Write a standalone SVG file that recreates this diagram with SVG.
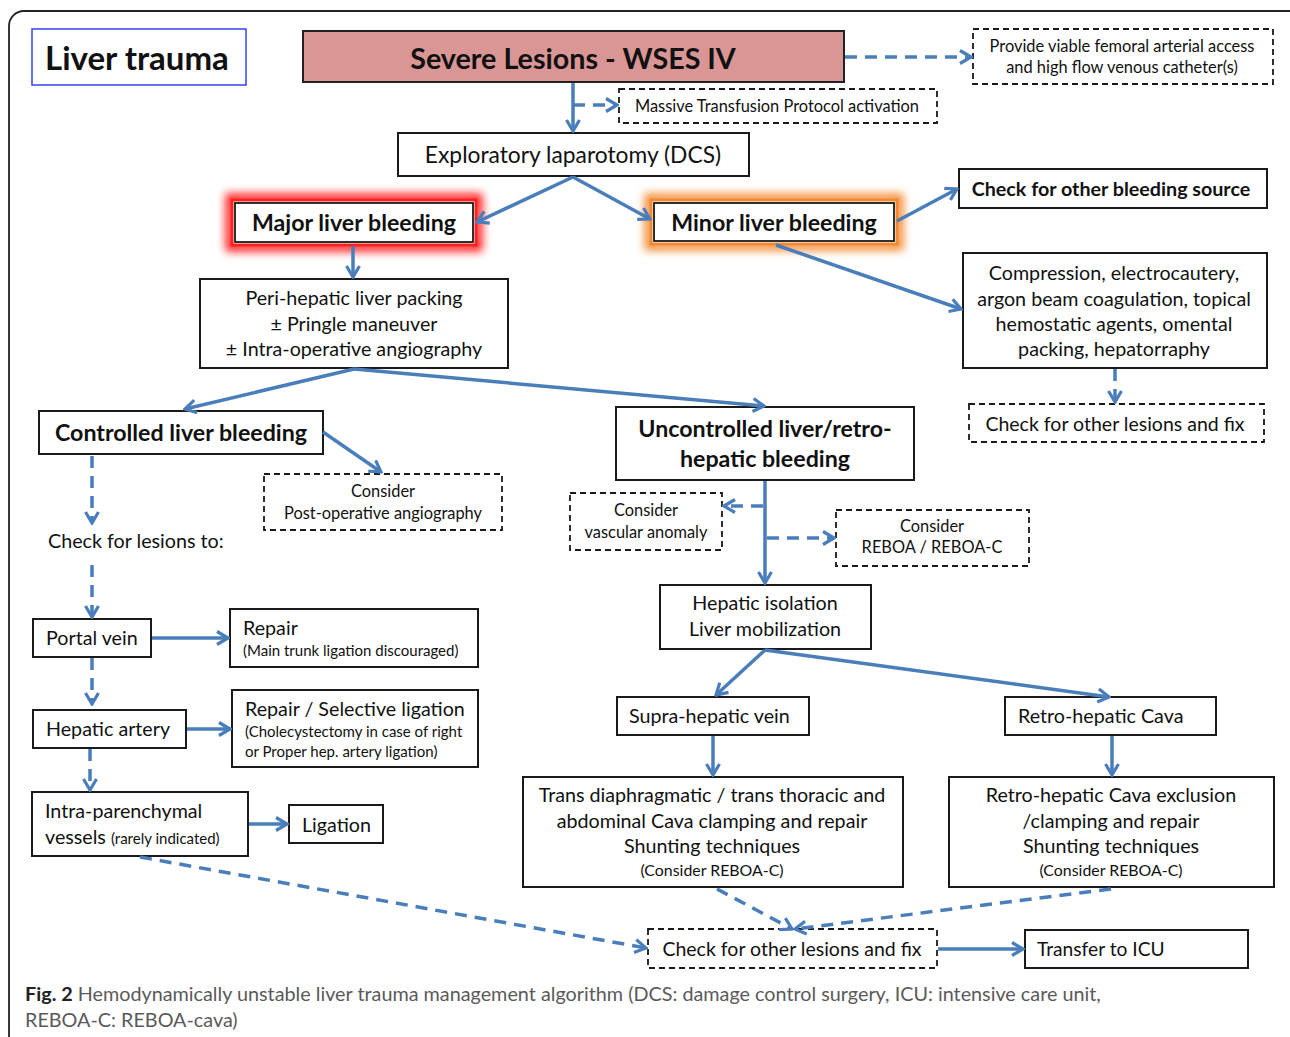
<svg xmlns="http://www.w3.org/2000/svg" width="1290" height="1037" viewBox="0 0 1290 1037">
<style>
  text { font-family: Lato, "Open Sans", "Liberation Sans", sans-serif; fill: #111; }
  .box { fill: #fff; stroke: #1a1a1a; stroke-width: 2; }
  .dbox { fill: #fff; stroke: #1a1a1a; stroke-width: 1.8; stroke-dasharray: 6 4; }
  .c { text-anchor: middle; }
  .b { font-weight: bold; }
  .s19 { font-size: 19.7px; }
  .s16 { font-size: 16.4px; }
  .s15 { font-size: 15.9px; }
  .s14 { font-size: 15px; }
  .s22 { font-size: 23.2px; }
  .s20 { font-size: 19.5px; }
  .con { fill: none; stroke: #4a7ebb; stroke-width: 3.5; marker-end: url(#ah); }
  .dash { stroke-dasharray: 12 8; }
</style>
<defs>
  <marker id="ah" markerUnits="userSpaceOnUse" viewBox="0 0 16 16" refX="14" refY="8" markerWidth="16" markerHeight="16" orient="auto">
    <path d="M3,1.5 L14,8 L3,14.5" fill="none" stroke="#4a7ebb" stroke-width="3.2" stroke-dasharray="none" stroke-linejoin="miter"/>
  </marker>
  <filter id="glow" x="-20%" y="-50%" width="140%" height="200%">
    <feGaussianBlur stdDeviation="4"/>
  </filter>
</defs>

<rect x="0" y="0" width="1290" height="1037" fill="#fff"/>
<rect x="9" y="11" width="1300" height="1100" rx="15" fill="none" stroke="#222" stroke-width="1.8"/>

<g id="title">
  <rect x="32" y="29" width="214" height="56" fill="#fff" stroke="#3344ee" stroke-width="1.5"/>
  <text x="45" y="70" style="font-size:33px" class="b">Liver trauma</text>
</g>

<g id="severe">
  <rect x="303" y="31" width="541" height="51" fill="#d99694" stroke="#222" stroke-width="2"/>
  <text x="573" y="69" class="c b" style="font-size:28.7px">Severe Lesions - WSES IV</text>
</g>

<g id="femoral">
  <rect x="973" y="29" width="300" height="55" class="dbox"/>
  <text x="1122" y="52" class="c s16">Provide viable femoral arterial access</text>
  <text x="1122" y="73" class="c s16">and high flow venous catheter(s)</text>
</g>

<g id="mtp">
  <rect x="619" y="89" width="318" height="34" class="dbox"/>
  <text x="777" y="112" class="c s16">Massive Transfusion Protocol activation</text>
</g>

<g id="explap">
  <rect x="398" y="133" width="351" height="43" class="box"/>
  <text x="573" y="163" class="c" style="font-size:22.8px">Exploratory laparotomy (DCS)</text>
</g>

<g id="major">
  <rect x="230" y="198" width="248" height="49" fill="none" stroke="#ff1a1a" stroke-width="9" filter="url(#glow)"/>
  <rect x="232" y="200" width="244" height="45" fill="#fff" stroke="#ff2020" stroke-width="3"/>
  <rect x="235" y="203" width="238" height="39" fill="#fff" stroke="#1a1a1a" stroke-width="1.8"/>
  <text x="354" y="231" class="c b s22">Major liver bleeding</text>
</g>

<g id="minor">
  <rect x="649" y="198" width="250" height="48" fill="none" stroke="#f38a33" stroke-width="9" filter="url(#glow)"/>
  <rect x="651" y="200" width="246" height="44" fill="#fff" stroke="#f38a33" stroke-width="3"/>
  <rect x="654" y="203" width="240" height="38" fill="#fff" stroke="#1a1a1a" stroke-width="1.8"/>
  <text x="774" y="231" class="c b s22">Minor liver bleeding</text>
</g>

<g id="othersource">
  <rect x="959" y="169" width="308" height="39" class="box"/>
  <text x="1111" y="196" class="c b s19">Check for other bleeding source</text>
</g>

<g id="compression">
  <rect x="963" y="253" width="304" height="115" class="box"/>
  <text x="1114" y="280" class="c s19">Compression, electrocautery,</text>
  <text x="1114" y="306" class="c s19">argon beam coagulation, topical</text>
  <text x="1114" y="331" class="c s19">hemostatic agents, omental</text>
  <text x="1114" y="356" class="c s19">packing, hepatorraphy</text>
</g>

<g id="otherlesions1">
  <rect x="969" y="404" width="295" height="38" class="dbox"/>
  <text x="1115" y="431" class="c s20">Check for other lesions and fix</text>
</g>

<g id="peri">
  <rect x="200" y="279" width="308" height="89" class="box"/>
  <text x="354" y="305" class="c s19">Peri-hepatic liver packing</text>
  <text x="354" y="331" class="c s19">± Pringle maneuver</text>
  <text x="354" y="356" class="c s19">± Intra-operative angiography</text>
</g>

<g id="controlled">
  <rect x="39" y="411" width="284" height="43" class="box"/>
  <text x="181" y="441" class="c b s22">Controlled liver bleeding</text>
</g>

<g id="postop">
  <rect x="264" y="474" width="238" height="56" class="dbox"/>
  <text x="383" y="497" class="c s16">Consider</text>
  <text x="383" y="519" class="c s16">Post-operative angiography</text>
</g>

<g id="checkfor">
  <text x="48" y="548" class="s19">Check for lesions to:</text>
</g>

<g id="portal">
  <rect x="33" y="619" width="118" height="38" class="box"/>
  <text x="46" y="645" class="s19">Portal vein</text>
</g>

<g id="repair1">
  <rect x="230" y="609" width="248" height="58" class="box"/>
  <text x="243" y="635" class="s19">Repair</text>
  <text x="243" y="656" class="s14">(Main trunk ligation discouraged)</text>
</g>

<g id="hepart">
  <rect x="33" y="710" width="153" height="38" class="box"/>
  <text x="46" y="736" class="s19">Hepatic artery</text>
</g>

<g id="repair2">
  <rect x="232" y="690" width="246" height="77" class="box"/>
  <text x="245" y="716" class="s19">Repair / Selective ligation</text>
  <text x="245" y="737" class="s14">(Cholecystectomy in case of right</text>
  <text x="245" y="757" class="s14">or Proper hep. artery ligation)</text>
</g>

<g id="intra">
  <rect x="32" y="792" width="216" height="64" class="box"/>
  <text x="45" y="818" class="s19">Intra-parenchymal</text>
  <text x="45" y="844" class="s19">vessels <tspan class="s14">(rarely indicated)</tspan></text>
</g>

<g id="ligation">
  <rect x="289" y="805" width="94" height="38" class="box"/>
  <text x="302" y="832" class="s19">Ligation</text>
</g>

<g id="uncontrolled">
  <rect x="616" y="407" width="298" height="73" class="box"/>
  <text x="765" y="437" class="c b s22">Uncontrolled liver/retro-</text>
  <text x="765" y="467" class="c b s22">hepatic bleeding</text>
</g>

<g id="vascular">
  <rect x="570" y="493" width="152" height="57" class="dbox"/>
  <text x="646" y="516" class="c s16">Consider</text>
  <text x="646" y="538" class="c s16">vascular anomaly</text>
</g>

<g id="reboa">
  <rect x="836" y="510" width="193" height="56" class="dbox"/>
  <text x="932" y="532" class="c s16">Consider</text>
  <text x="932" y="553" class="c s16">REBOA / REBOA-C</text>
</g>

<g id="isolation">
  <rect x="660" y="585" width="211" height="64" class="box"/>
  <text x="765" y="610" class="c s19">Hepatic isolation</text>
  <text x="765" y="636" class="c s19">Liver mobilization</text>
</g>

<g id="supra">
  <rect x="617" y="697" width="192" height="38" class="box"/>
  <text x="629" y="723" class="s19">Supra-hepatic vein</text>
</g>

<g id="retro">
  <rect x="1005" y="697" width="211" height="38" class="box"/>
  <text x="1018" y="723" class="s19">Retro-hepatic Cava</text>
</g>

<g id="trans">
  <rect x="523" y="777" width="380" height="110" class="box"/>
  <text x="712" y="802" class="c s19">Trans diaphragmatic / trans thoracic and</text>
  <text x="712" y="828" class="c s19">abdominal Cava clamping and repair</text>
  <text x="712" y="853" class="c s19">Shunting techniques</text>
  <text x="712" y="876" class="c s15">(Consider REBOA-C)</text>
</g>

<g id="exclusion">
  <rect x="949" y="777" width="325" height="110" class="box"/>
  <text x="1111" y="802" class="c s19">Retro-hepatic Cava exclusion</text>
  <text x="1111" y="828" class="c s19">/clamping and repair</text>
  <text x="1111" y="853" class="c s19">Shunting techniques</text>
  <text x="1111" y="876" class="c s15">(Consider REBOA-C)</text>
</g>

<g id="otherlesions2">
  <rect x="648" y="929" width="289" height="39" class="dbox"/>
  <text x="792" y="956" class="c s20">Check for other lesions and fix</text>
</g>

<g id="icu">
  <rect x="1025" y="930" width="223" height="38" class="box"/>
  <text x="1037" y="956" style="font-size:19.2px">Transfer to ICU</text>
</g>

<g id="connectors">
  <path class="con dash" d="M845,57 L971,57"/>
  <path class="con" d="M573,83 L573,131"/>
  <path class="con dash" d="M573,105 L617,105"/>
  <path class="con" d="M573,177 L477,222"/>
  <path class="con" d="M573,177 L650,219"/>
  <path class="con" d="M897,221 L957,189"/>
  <path class="con" d="M776,245 L961,309"/>
  <path class="con dash" d="M1115,369 L1115,402"/>
  <path class="con" d="M353,246 L353,277"/>
  <path class="con" d="M354,369 L185,409"/>
  <path class="con" d="M354,369 L764,406"/>
  <path class="con" d="M323,432 L381,472"/>
  <path class="con dash" d="M92,456 L92,523"/>
  <path class="con dash" d="M92,565 L92,617"/>
  <path class="con" d="M152,638 L228,638"/>
  <path class="con dash" d="M92,658 L92,704"/>
  <path class="con" d="M187,729 L230,729"/>
  <path class="con dash" d="M90,749 L90,790"/>
  <path class="con" d="M249,824 L287,824"/>
  <path class="con dash" d="M140,857 L646,948"/>
  <path class="con" d="M765,481 L765,583"/>
  <path class="con dash" d="M763,506 L724,506"/>
  <path class="con dash" d="M767,538 L834,538"/>
  <path class="con" d="M765,650 L716,695"/>
  <path class="con" d="M765,650 L1109,697"/>
  <path class="con" d="M713,736 L713,775"/>
  <path class="con" d="M1112,736 L1112,775"/>
  <path class="con dash" d="M717,889 L792,929"/>
  <path class="con dash" d="M1111,889 L795,929"/>
  <path class="con" d="M938,949 L1023,949"/>
</g>

<g id="caption">
  <text x="25" y="1001" style="font-size:19.8px;fill:#5a5a5a"><tspan style="font-weight:bold;fill:#222">Fig. 2</tspan> Hemodynamically unstable liver trauma management algorithm (DCS: damage control surgery, ICU: intensive care unit,</text>
  <text x="25" y="1027" style="font-size:19.8px;fill:#5a5a5a">REBOA-C: REBOA-cava)</text>
</g>
</svg>
